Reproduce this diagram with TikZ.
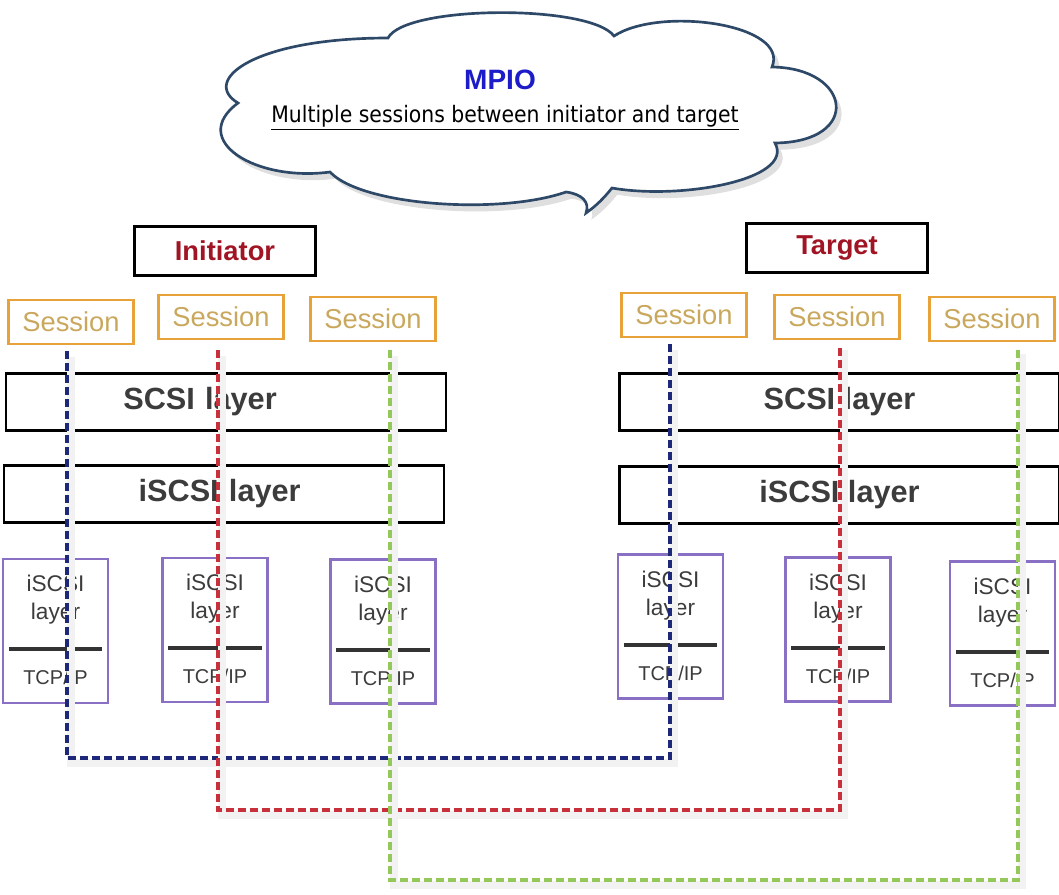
\documentclass[tikz,border=0pt]{standalone}
\usepackage{fontspec}
\setmainfont{Liberation Sans}
\newfontfamily\cloudfont{DejaVu Sans Condensed}
\usetikzlibrary{positioning,calc,shadows}
\definecolor{cloudline}{HTML}{2E4868}
\definecolor{mpioblue}{HTML}{1C1CC8}
\definecolor{rolered}{HTML}{A01424}
\definecolor{sessorange}{HTML}{E8A23A}
\definecolor{sesstext}{HTML}{C9A85E}
\definecolor{stackpurple}{HTML}{8A70C4}
\definecolor{layertext}{HTML}{3C3C3C}
\definecolor{pathblue}{HTML}{1E2878}
\definecolor{pathred}{HTML}{C8303C}
\definecolor{pathgreen}{HTML}{94C85A}
\tikzset{
  every node/.style={align=center, inner sep=0pt},
  rolebox/.style={
    draw, line width=2.2pt,
    minimum width=136pt, minimum height=37pt,
    text=rolered, font=\fontsize{20.5}{24}\selectfont\bfseries
  },
  sessbox/.style={
    draw=sessorange, line width=2.2pt,
    minimum width=94pt, minimum height=33pt,
    text=sesstext, font=\fontsize{20.5}{24}\selectfont
  },
  layerbox/.style={
    draw, line width=2.2pt,
    minimum width=330pt, minimum height=43pt,
    text=layertext, font=\fontsize{23}{27}\selectfont\bfseries
  },
  stackbox/.style={
    draw=stackpurple, line width=1.8pt,
    minimum width=79pt, minimum height=108pt
  },
  stacktext/.style={text=layertext, font=\fontsize{17}{21}\selectfont},
  tcptext/.style={text=layertext, font=\fontsize{15}{17}\selectfont},
  bar/.style={line width=3pt, draw=black!80},
  sesspath/.style={
    line width=3pt, dash pattern=on 6pt off 3pt,
    preaction={draw=black!5, line width=6pt, solid,
      transform canvas={shift={(3pt,-4pt)}}}
  }
}

\begin{document}
\begin{tikzpicture}[x=0.75pt, y=-0.75pt]
\useasboundingbox (0,0) rectangle (1059,894);

%% ---------------------------------------------------------------------------
%% MPIO cloud
%% ---------------------------------------------------------------------------
\draw[cloudline, line width=2pt, fill=white,
      drop shadow={shadow xshift=4pt, shadow yshift=-5pt, opacity=0.25}]
  (238,103) .. controls (200,80) and (255,38) .. (388,38)      % upper left
  .. controls (405,5) and (590,4) .. (614,36)                 % top
  .. controls (660,6) and (790,24) .. (772,67)                % upper right
  .. controls (852,68) and (862,142) .. (775,143)             % right
  .. controls (795,180) and (680,200) .. (612,188)            % lower right
  .. controls (604,198) and (596,206) .. (586,213)            % tail
  .. controls (590,202) and (582,194) .. (566,192)
  .. controls (500,215) and (362,206) .. (330,172)            % bottom
  .. controls (255,182) and (188,140) .. (238,103)            % lower left
  -- cycle;
\node[text=mpioblue, font=\fontsize{21}{24}\selectfont\bfseries] (mpio) at (500,80) {MPIO};
\node[font=\cloudfont\fontsize{17}{20}\selectfont] (mpiosub) at (505,118)
  {\underline{Multiple sessions between initiator and target}};

%% ---------------------------------------------------------------------------
%% Initiator side
%% ---------------------------------------------------------------------------
\node[rolebox] (init) at (225,251) {Initiator};

% sessions
\node[sessbox] (is1) at (71,322)  {Session};
\node[sessbox] (is2) at (221,317) {Session};
\node[sessbox] (is3) at (373,319) {Session};

% layers (text sits left of centre)
\node[layerbox, text width=330pt, align=left] (iscsi) at (226,402)
  {\hspace*{88pt}SCSI layer};
\node[layerbox, text width=330pt, align=left] (iiscsi) at (224,494)
  {\hspace*{101pt}iSCSI layer};

% per-session stacks
\node[stackbox] (ib1) at (55.5,631) {};
\node[stackbox] (ib2) at (215,630)  {};
\node[stackbox] (ib3) at (383,631.5) {};

%% ---------------------------------------------------------------------------
%% Target side
%% ---------------------------------------------------------------------------
\node[rolebox] (targ) at (837,248) {Target};

% sessions
\node[sessbox] (ts1) at (684,315) {Session};
\node[sessbox] (ts2) at (837,317) {Session};
\node[sessbox] (ts3) at (992,319) {Session};

% layers
\node[layerbox] (tscsi) at (839.5,402) {SCSI layer};
\node[layerbox] (tiscsi) at (839.5,495) {iSCSI layer};

% per-session stacks
\node[stackbox] (tb1) at (670.5,626.5) {};
\node[stackbox] (tb2) at (838,629.5)   {};
\node[stackbox] (tb3) at (1002.5,633.5) {};

%% stack contents: iSCSI layer over TCP/IP
\foreach \b in {ib1,ib2,ib3,tb1,tb2,tb3}{
  \node[stacktext] at ($(\b.north)+(0,42)$) {iSCSI\\layer};
  \draw[bar] ($(\b.west)+(7,18)$) -- ($(\b.east)+(-7,18)$);
  \node[tcptext] at ($(\b.north)+(0,120)$) {TCP/IP};
}

%% ---------------------------------------------------------------------------
%% Session paths between initiator and target
%% ---------------------------------------------------------------------------
\coordinate (bluebot)  at (400,758);
\coordinate (redbot)   at (500,810);
\coordinate (greenbot) at (700,880);

\draw[sesspath, pathblue]
  ($(is1.south)+(-4,6)$) |- (bluebot) -| ($(ts1.south)+(-14,6)$);
\draw[sesspath, pathred]
  ($(is2.south)+(-3,10)$) |- (redbot) -| ($(ts2.south)+(3,4)$);
\draw[sesspath, pathgreen, line width=2.4pt]
  ($(is3.south)+(17,8)$) |- (greenbot) -| ($(ts3.south)+(26,6)$);

\end{tikzpicture}
\end{document}
